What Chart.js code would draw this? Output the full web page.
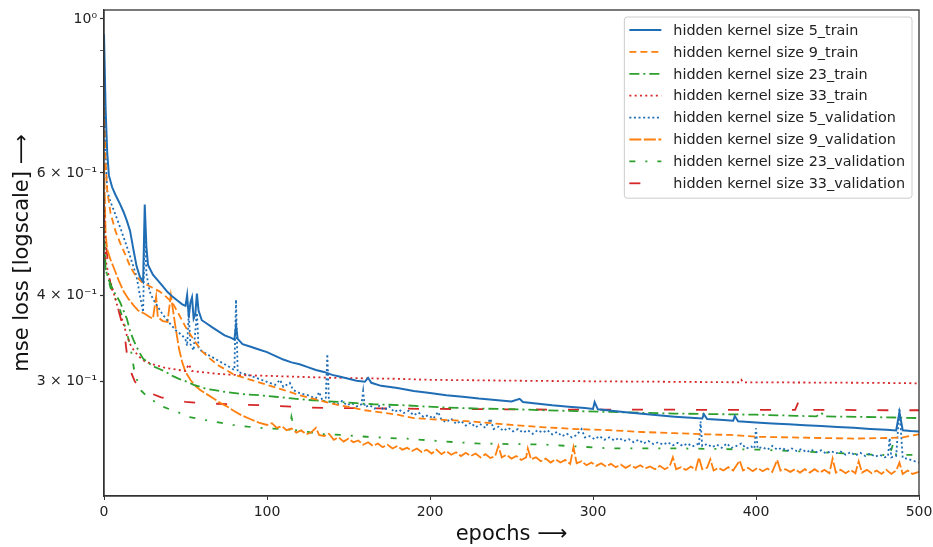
<!DOCTYPE html>
<html lang="en">
<head>
<meta charset="UTF-8">
<title>mse loss per epoch</title>
<script src="https://cdn.jsdelivr.net/npm/chart.js"></script>
<style>
  body { margin: 0; background: #fff; }
  #wrap { width: 933px; height: 547px; }
</style>
</head>
<body>
<div id="wrap"><canvas id="lossChart"></canvas></div>
<script>
// [epoch, loss] pairs
const k5Train = [[0,0.95],[1,0.74],[2,0.64],[3,0.595],[5,0.572],[7,0.558],[10,0.54],[12,0.527],[14,0.512],[16,0.495],[18,0.466],[20,0.44],[22,0.425],[24,0.418],[25,0.54],[26,0.47],[27,0.442],[30,0.428],[33,0.42],[36,0.412],[39,0.404],[42,0.398],[45,0.393],[48,0.388],[50,0.386],[51,0.40],[52,0.372],[53,0.39],[54,0.397],[55,0.37],[56,0.375],[57,0.402],[58,0.38],[60,0.368],[63,0.364],[66,0.36],[70,0.355],[74,0.35],[78,0.347],[80,0.345],[81,0.362],[82,0.346],[85,0.34],[90,0.337],[95,0.334],[100,0.331],[105,0.327],[110,0.323],[115,0.32],[120,0.318],[125,0.315],[130,0.312],[135,0.31],[140,0.307],[145,0.305],[150,0.303],[155,0.301],[160,0.3],[162,0.304],[164,0.299],[170,0.296],[180,0.294],[190,0.291],[200,0.289],[210,0.287],[220,0.2855],[230,0.2838],[240,0.2825],[250,0.281],[255,0.2835],[257,0.2805],[265,0.2792],[275,0.2775],[285,0.2762],[295,0.275],[300,0.2742],[301,0.2805],[303,0.2738],[310,0.2728],[320,0.2712],[330,0.2698],[340,0.2685],[350,0.2672],[360,0.2662],[367,0.2656],[368,0.2695],[370,0.2652],[380,0.2642],[386,0.2636],[387,0.2678],[389,0.2632],[400,0.2622],[410,0.2612],[420,0.2605],[430,0.2597],[440,0.259],[450,0.2582],[460,0.2575],[470,0.2565],[480,0.2558],[486,0.2553],[488,0.2712],[490,0.2555],[495,0.2548],[500,0.2545]];
const k9Train = [[0,0.80],[1,0.62],[2,0.565],[4,0.525],[7,0.495],[10,0.475],[13,0.458],[16,0.44],[19,0.428],[23,0.418],[28,0.412],[34,0.405],[38,0.398],[42,0.39],[46,0.375],[50,0.36],[55,0.345],[60,0.332],[65,0.324],[70,0.317],[75,0.312],[80,0.307],[90,0.302],[100,0.297],[110,0.292],[120,0.287],[130,0.283],[140,0.279],[150,0.276],[160,0.273],[170,0.271],[180,0.269],[190,0.266],[200,0.265],[215,0.264],[230,0.2625],[250,0.26],[270,0.258],[290,0.2565],[310,0.2555],[330,0.254],[350,0.253],[370,0.252],[385,0.2515],[400,0.25],[420,0.2495],[440,0.249],[460,0.2485],[480,0.249],[490,0.2495],[500,0.252]];
const k23Train = [[0,0.48],[1,0.436],[3,0.42],[6,0.405],[8,0.398],[10,0.39],[12,0.38],[14,0.37],[16,0.355],[18,0.345],[20,0.337],[22,0.33],[24,0.324],[27,0.32],[30,0.316],[34,0.313],[38,0.31],[42,0.306],[46,0.303],[51,0.30],[55,0.297],[59,0.295],[63,0.293],[67,0.292],[75,0.29],[85,0.288],[95,0.287],[105,0.2855],[115,0.284],[125,0.2825],[135,0.2815],[145,0.2805],[155,0.2795],[165,0.2785],[175,0.278],[185,0.2775],[195,0.2765],[210,0.2755],[230,0.2745],[250,0.274],[270,0.273],[290,0.2722],[310,0.2715],[330,0.2707],[350,0.27],[375,0.2695],[400,0.269],[425,0.268],[437,0.2675],[440,0.2705],[443,0.2675],[465,0.267],[485,0.2665],[500,0.266]];
const k33Train = [[0,0.55],[1,0.45],[3,0.425],[5,0.41],[7,0.395],[9,0.38],[11,0.37],[14,0.35],[16,0.34],[18,0.334],[21,0.327],[25,0.321],[30,0.318],[34,0.316],[38,0.314],[42,0.313],[46,0.312],[50,0.311],[52,0.318],[54,0.311],[59,0.31],[70,0.308],[79,0.307],[90,0.3065],[100,0.306],[120,0.305],[140,0.304],[160,0.3035],[180,0.303],[200,0.302],[230,0.3015],[260,0.301],[300,0.3005],[350,0.30],[390,0.2995],[391,0.302],[392,0.2995],[430,0.2993],[470,0.299],[500,0.2985]];
const k5Val = [[0,0.78],[1,0.63],[2,0.565],[4,0.545],[6,0.53],[8,0.515],[10,0.5],[12,0.485],[14,0.47],[16,0.455],[18,0.44],[20,0.425],[22,0.4],[24,0.378],[25,0.50],[26,0.43],[28,0.405],[30,0.395],[33,0.385],[36,0.375],[40,0.365],[44,0.356],[48,0.35],[50,0.345],[51,0.338],[52,0.376],[53,0.34],[55,0.333],[57,0.377],[58,0.336],[60,0.332],[64,0.328],[68,0.324],[72,0.32],[76,0.316],[80,0.312],[81,0.394],[82,0.31],[86,0.308],[90,0.306],[95,0.303],[100,0.30],[105,0.297],[108,0.302],[110,0.295],[114,0.299],[116,0.292],[120,0.289],[125,0.287],[130,0.284],[132,0.29],[134,0.282],[136,0.281],[137,0.329],[138,0.281],
  [140,0.2805],[143,0.278],[146,0.2815],[149,0.2775],[152,0.2795],[155,0.2765],[158,0.2785],[159,0.291],[160,0.276],[163,0.2775],[166,0.2745],[169,0.277],[172,0.273],[175,0.2765],[178,0.2715],[181,0.2735],[184,0.2705],[187,0.2725],[190,0.2685],[193,0.271],[196,0.267],[199,0.2685],[202,0.2655],[205,0.2715],[207,0.2645],[210,0.2625],[213,0.2655],[216,0.261],[219,0.2635],[222,0.2595],[225,0.262],[228,0.258],[231,0.2605],[234,0.2575],[237,0.2655],[239,0.2565],[242,0.2585],[245,0.255],[248,0.2575],[251,0.2545],[254,0.2565],[257,0.2535],[260,0.2555],[263,0.2525],[266,0.2555],[269,0.2535],[272,0.2555],[275,0.252],[278,0.254],[281,0.2505],[284,0.2525],[287,0.2495],[290,0.2515],[293,0.2565],[295,0.2495],[298,0.2505],[301,0.248],[304,0.2505],[307,0.2475],[310,0.2495],[313,0.247],[316,0.249],[319,0.2465],[322,0.248],[325,0.2455],[328,0.2475],[331,0.2445],[334,0.2465],[337,0.244],[340,0.2455],[343,0.2435],[346,0.2455],[349,0.243],[352,0.245],[355,0.2425],[358,0.2445],[361,0.242],[364,0.244],[365,0.2425],[366,0.263],[367,0.2425],[370,0.244],[373,0.2415],[376,0.2435],[379,0.241],[382,0.2445],[385,0.241],[388,0.2425],[391,0.2445],[394,0.2405],[397,0.242],[399,0.2405],[400,0.257],[401,0.2405],[404,0.2415],[407,0.2395],[410,0.2425],[413,0.2395],[416,0.241],[419,0.2385],[422,0.2405],[425,0.2385],[428,0.24],[431,0.2375],[434,0.2395],[437,0.2375],[440,0.239],[443,0.2365],[446,0.2385],[449,0.2365],[452,0.238],[455,0.2355],[458,0.2375],[461,0.235],[464,0.237],[467,0.2345],[470,0.2365],[473,0.234],[476,0.2355],[479,0.2335],[481,0.2345],[482,0.249],[483,0.2335],[486,0.2345],[488,0.275],[490,0.233],[493,0.2325],[496,0.231],[500,0.2295]];
const k9Val = [[0,0.62],[1,0.49],[2,0.465],[4,0.45],[6,0.438],[9,0.42],[12,0.405],[15,0.395],[18,0.387],[21,0.38],[25,0.376],[28,0.372],[30,0.37],[32,0.398],[33,0.372],[36,0.367],[39,0.366],[41,0.40],[42,0.385],[44,0.358],[46,0.335],[48,0.32],[50,0.31],[53,0.302],[56,0.296],[59,0.292],[63,0.288],[67,0.284],[71,0.28],[76,0.276],[80,0.272],[85,0.268],[90,0.265],[95,0.262],
  [100,0.26],[103,0.2615],[106,0.2575],[109,0.259],[112,0.2555],[115,0.257],[118,0.2535],[121,0.2555],[124,0.252],[127,0.2535],[130,0.2575],[132,0.2515],[135,0.2505],[138,0.2525],[141,0.2475],[144,0.2495],[147,0.246],[150,0.2485],[153,0.2455],[156,0.247],[159,0.2435],[162,0.2455],[165,0.2425],[168,0.2445],[171,0.2415],[174,0.2435],[177,0.2405],[180,0.2425],[183,0.2395],[186,0.241],[189,0.2385],[192,0.2405],[195,0.2375],[198,0.2395],[201,0.2365],[204,0.2395],[207,0.236],[210,0.2385],[213,0.2355],[216,0.2375],[219,0.2345],[222,0.237],[225,0.2345],[228,0.2365],[231,0.2335],[234,0.236],[237,0.233],[240,0.2345],[242,0.2425],[244,0.2335],[247,0.2355],[250,0.2325],[253,0.2345],[256,0.2315],[259,0.2335],[260,0.2405],[262,0.232],[265,0.2335],[268,0.2305],[271,0.2325],[274,0.2295],[277,0.232],[280,0.2295],[283,0.2315],[286,0.2285],[288,0.2415],[290,0.229],[293,0.2305],[296,0.2275],[299,0.2295],[302,0.227],[305,0.229],[308,0.2265],[311,0.2285],[314,0.226],[317,0.228],[320,0.2255],[323,0.2275],[326,0.2255],[329,0.2275],[332,0.225],[335,0.2265],[338,0.2245],[341,0.227],[344,0.2245],[347,0.2265],[349,0.2335],[351,0.2245],[354,0.226],[357,0.224],[360,0.2265],[363,0.224],[365,0.2335],[367,0.2245],[370,0.2255],[372,0.232],[374,0.2235],[377,0.2255],[380,0.2235],[383,0.226],[386,0.2235],[390,0.231],[392,0.2235],[395,0.2255],[398,0.223],[401,0.2255],[404,0.223],[407,0.225],[410,0.2225],[413,0.2315],[415,0.2235],[418,0.2245],[421,0.2225],[424,0.2245],[427,0.222],[430,0.2245],[433,0.222],[436,0.2245],[439,0.222],[442,0.224],[445,0.2215],[447,0.2325],[449,0.222],[452,0.224],[455,0.2215],[458,0.224],[461,0.2215],[463,0.2305],[465,0.222],[468,0.224],[471,0.2215],[474,0.2235],[477,0.221],[480,0.224],[483,0.221],[486,0.2235],[488,0.2295],[490,0.221],[493,0.2235],[496,0.221],[500,0.2225]];
const k23Val = [[0,0.50],[1,0.436],[4,0.41],[7,0.395],[10,0.38],[13,0.36],[16,0.339],[19,0.307],[23,0.291],[27,0.285],[30,0.282],[33,0.279],[36,0.2763],[40,0.274],[45,0.2715],[52,0.267],[56,0.266],[61,0.2645],[69,0.2626],[79,0.26],[88,0.2585],[100,0.257],[110,0.2565],[114,0.256],[115,0.267],[117,0.2557],[125,0.254],[131,0.2524],[145,0.2516],[161,0.25],[175,0.249],[186,0.2484],[195,0.2475],[210,0.246],[229,0.2445],[250,0.244],[269,0.2437],[290,0.2421],[310,0.2406],[330,0.2406],[347,0.2406],[360,0.2404],[380,0.24],[402,0.2395],[420,0.2385],[440,0.2375],[464,0.236],[475,0.2355],[482,0.2352],[484,0.2437],[486,0.2352],[497,0.2355],[500,0.2355]];
const k33Val = [[0,0.52],[1,0.477],[4,0.414],[8,0.387],[12,0.358],[13,0.345],[14,0.33],[15,0.32],[17,0.308],[19,0.30],[22,0.295],[26,0.29],[30,0.288],[35,0.285],[42,0.283],[50,0.2806],[60,0.2795],[68,0.279],[86,0.278],[104,0.2772],[122,0.2756],[140,0.275],[159,0.2748],[180,0.2745],[200,0.2742],[230,0.274],[260,0.2737],[290,0.2735],[320,0.2735],[350,0.2735],[380,0.2733],[410,0.2733],[424,0.2733],[426,0.2806],[428,0.2733],[450,0.2733],[480,0.273],[500,0.273]];

const seriesNames = [
  'hidden kernel size 5_train', 'hidden kernel size 9_train',
  'hidden kernel size 23_train', 'hidden kernel size 33_train',
  'hidden kernel size 5_validation', 'hidden kernel size 9_validation',
  'hidden kernel size 23_validation', 'hidden kernel size 33_validation'
];
const seriesData = [k5Train, k9Train, k23Train, k33Train, k5Val, k9Val, k23Val, k33Val];

const xTickValues = [0, 100, 200, 300, 400, 500];
const yTickValues = [0.3, 0.4, 0.5, 0.6, 0.7, 0.8, 0.9, 1];
const yTickLabels = ['3 × 10⁻¹', '4 × 10⁻¹', '', '6 × 10⁻¹', '', '', '', '10⁰'];

// line looks, same order as the series
const blue = '#1f6db5', orange = '#ff7f0e', green = '#2ca02c', red = '#d62728';
const styles = [
  { color: blue,   dash: [] },
  { color: orange, dash: [7, 4] },
  { color: green,  dash: [10, 4, 2, 4] },
  { color: red,    dash: [2, 3.3] },
  { color: blue,   dash: [2, 2.6] },
  { color: orange, dash: [12, 2.5] },
  { color: green,  dash: [6, 10, 2, 10] },
  { color: red,    dash: [11, 21] }
];

const font = 'DejaVu Sans';

// legend drawn inside the plot, top right
const insideLegend = {
  id: 'insideLegend',
  afterDatasetsDraw(chart) {
    const ctx = chart.ctx;
    const area = chart.chartArea;
    ctx.save();
    ctx.font = '14.4px "' + font + '"';
    let textW = 0;
    seriesNames.forEach(n => { textW = Math.max(textW, ctx.measureText(n).width); });
    const rowH = 21.9;
    const w = textW + 56, h = rowH * seriesNames.length + 6;
    const x = area.right - 7 - w, y = area.top + 7;

    ctx.beginPath();
    ctx.roundRect(x, y, w, h, 3);
    ctx.fillStyle = 'rgba(255,255,255,0.85)';
    ctx.fill();
    ctx.strokeStyle = '#cccccc';
    ctx.lineWidth = 1;
    ctx.stroke();

    chart.data.datasets.forEach((ds, i) => {
      const cy = y + 13 + i * rowH;
      ctx.beginPath();
      ctx.setLineDash(ds.borderDash);
      ctx.strokeStyle = ds.borderColor;
      ctx.lineWidth = ds.borderWidth;
      ctx.moveTo(x + 5, cy);
      ctx.lineTo(x + 37, cy);
      ctx.stroke();
      ctx.setLineDash([]);
      ctx.fillStyle = '#222';
      ctx.textBaseline = 'middle';
      ctx.fillText(ds.label, x + 49, cy + 1);
    });
    ctx.restore();
  }
};

// matplotlib style box round the plot
const frame = {
  id: 'frame',
  afterDraw(chart) {
    const { ctx, chartArea: a } = chart;
    ctx.save();
    ctx.strokeStyle = '#333';
    ctx.lineWidth = 1.3;
    ctx.strokeRect(a.left, a.top, a.right - a.left, a.bottom - a.top);
    ctx.restore();
  }
};

const datasets = seriesData.map((pts, i) => ({
  label: seriesNames[i],
  data: pts.map(([x, y]) => ({ x, y })),
  borderColor: styles[i].color,
  backgroundColor: styles[i].color,
  borderDash: styles[i].dash,
  borderWidth: i === 0 ? 2 : 1.8,
  pointRadius: 0,
  tension: 0,
  fill: false
}));

new Chart(document.getElementById('lossChart'), {
  type: 'line',
  data: { datasets },
  options: {
    responsive: true,
    maintainAspectRatio: false,
    animation: false,
    layout: { padding: { left: 0, right: 14, top: 10, bottom: 0 } },
    plugins: {
      legend: { display: false },
      tooltip: { enabled: false }
    },
    scales: {
      x: {
        type: 'linear',
        min: 0,
        max: 500,
        afterFit: s => { s.height = 51; s.paddingLeft = 0; s.paddingRight = 0; },
        afterBuildTicks: s => { s.ticks = xTickValues.map(v => ({ value: v })); },
        grid: { drawOnChartArea: false, tickLength: 4, tickColor: '#333', color: '#333' },
        border: { color: '#333', width: 1.3 },
        ticks: { color: '#222', padding: 4, maxRotation: 0, font: { family: font, size: 14 } },
        title: {
          display: true,
          text: 'epochs ⟶',
          color: '#111',
          padding: { top: 0, bottom: 0 },
          font: { family: font, size: 21 }
        }
      },
      y: {
        type: 'logarithmic',
        min: 0.2054,
        max: 1.030,
        afterFit: s => { s.width = 104; s.paddingTop = 0; s.paddingBottom = 0; },
        afterBuildTicks: s => { s.ticks = yTickValues.map(v => ({ value: v })); },
        grid: {
          drawOnChartArea: false,
          tickLength: 4,
          color: '#333',
          tickColor: '#333',
          tickWidth: c => (yTickLabels[c.index] ? 1.2 : 0.8)
        },
        border: { color: '#333', width: 1.3 },
        ticks: {
          color: '#222',
          padding: 3,
          font: { family: font, size: 14 },
          callback: (value, index) => yTickLabels[index]
        },
        title: {
          display: true,
          text: 'mse loss [logscale] ⟶',
          color: '#111',
          padding: { top: 10, bottom: 0 },
          font: { family: font, size: 21 }
        }
      }
    }
  },
  plugins: [insideLegend, frame]
});
</script>
</body>
</html>
